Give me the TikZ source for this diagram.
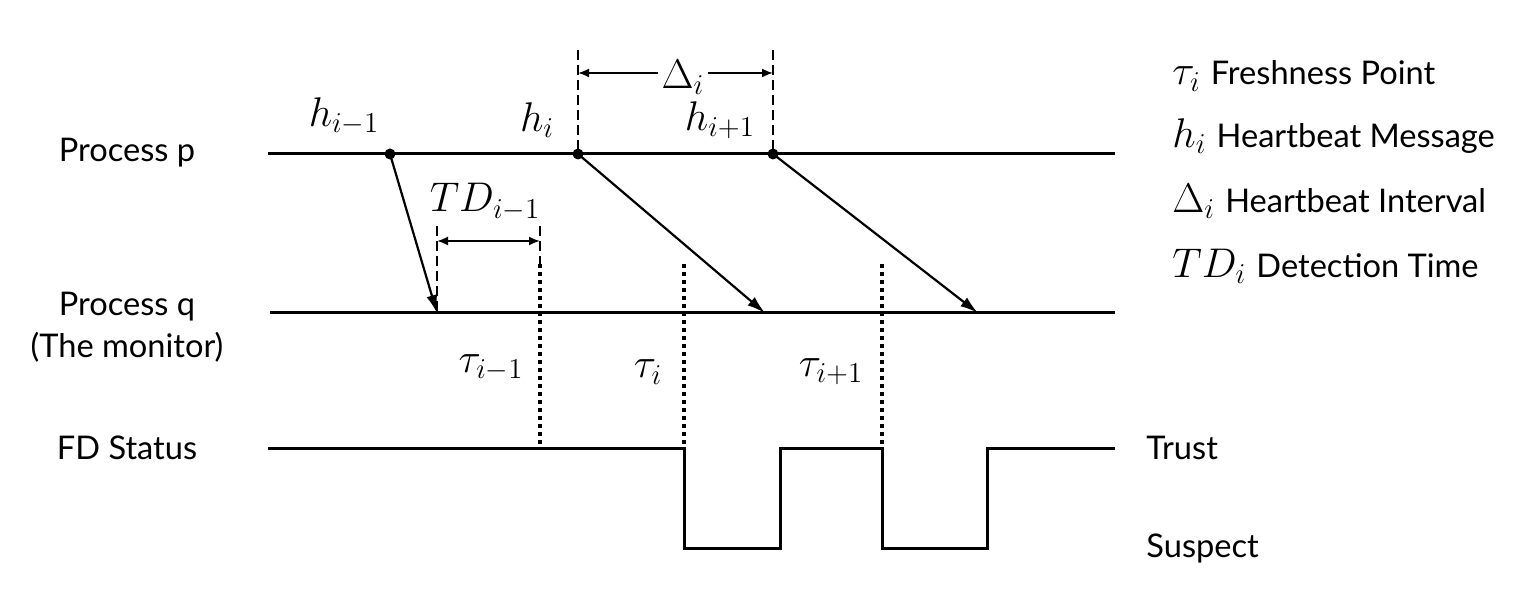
\documentclass[tikz,border=0pt]{standalone}
\usepackage{fontspec}
\setmainfont{Lato}
\usetikzlibrary{arrows.meta}
\begin{document}
\begin{tikzpicture}[x=0.5pt,y=-0.5pt,
 lane/.style={line width=1.5pt},
 msg/.style={line width=1.1pt,-{Latex[length=9pt,width=5.5pt]}},
 dim/.style={line width=0.9pt,{Latex[length=5.5pt,width=4.5pt]}-{Latex[length=5.5pt,width=4.5pt]}},
 guide/.style={line width=0.75pt,dash pattern=on 5pt off 2.5pt},
 fresh/.style={line width=2pt,dash pattern=on 2pt off 2pt},
 evt/.style={circle,fill,inner sep=0pt,minimum size=5.5pt},
 lbl/.style={font=\fontsize{16.3}{19}\selectfont,inner sep=0pt},
 mth/.style={font=\fontsize{20}{24}\selectfont,inner sep=1pt},
]
\useasboundingbox (0,0) rectangle (1531,613);
% lanes
\coordinate (pL) at (268,154); \coordinate (pR) at (1115,154);
\coordinate (qL) at (270,313); \coordinate (qR) at (1115,313);
\draw[lane] (pL) -- (pR);
\draw[lane] (qL) -- (qR);
% FD status
\coordinate (sL) at (268,449);
\coordinate (d1) at (684,449); \coordinate (d1b) at (684,549);
\coordinate (u1b) at (780,549); \coordinate (u1) at (780,449);
\coordinate (d2) at (882,449); \coordinate (d2b) at (882,549);
\coordinate (u2b) at (987,549); \coordinate (u2) at (987,449);
\coordinate (sR) at (1115,449);
\draw[lane] (sL) -- (d1) -- (d1b) -- (u1b) -- (u1) -- (d2) -- (d2b) -- (u2b) -- (u2) -- (sR);
% heartbeats
\node[evt] (h1) at (390,154) {};
\node[evt] (h2) at (578,154) {};
\node[evt] (h3) at (773,154) {};
\coordinate (r1) at (437,313);
\coordinate (r2) at (765,313);
\coordinate (r3) at (978,313);
\draw[msg] (h1.center) -- (r1);
\draw[msg] (h2.center) -- (r2);
\draw[msg] (h3.center) -- (r3);
% freshness points
\coordinate (f1t) at (540,264); \coordinate (f1) at (540,449);
\coordinate (f2t) at (684,264);
\coordinate (f3t) at (882,264);
\draw[fresh] (f1t) -- (f1);
\draw[fresh] (f2t) -- (d1);
\draw[fresh] (f3t) -- (d2);
% TD
\coordinate (tdA) at (437,226); \coordinate (tdB) at (540,226);
\coordinate (tdA2) at (437,241); \coordinate (tdB2) at (540,241);
\draw[guide] (tdA) -- (r1);
\draw[guide] (tdB) -- (f1t);
\draw[dim] (tdA2) -- (tdB2);
\node[mth] (tdl) at (485,202) {$TD_{i-1}$};
% Delta
\coordinate (dA) at (578,50); \coordinate (dB) at (773,50);
\coordinate (dA2) at (578,73); \coordinate (dB2) at (773,73);
\draw[guide] (dA) -- (h2.center);
\draw[guide] (dB) -- (h3.center);
\draw[dim] (dA2) -- (dB2);
\node[mth,fill=white,inner sep=2pt] (dl) at (683,77) {$\Delta_i$};
% labels
\node[mth] (lh1) at (344,116) {$h_{i-1}$};
\node[mth] (lh2) at (537,120) {$h_i$};
\node[mth] (lh3) at (720,120) {$h_{i+1}$};
\node[mth] (lt1) at (491,368) {$\tau_{i-1}$};
\node[mth] (lt2) at (648,372) {$\tau_i$};
\node[mth] (lt3) at (831,372) {$\tau_{i+1}$};
% left labels
\node[lbl] (lp) at (127,153) {Process p};
\node[lbl,align=center] (lq) at (127,327) {Process q\\[2pt](The monitor)};
\node[lbl] (lfd) at (127,448) {FD Status};
\node[lbl,anchor=west] (ltr) at (1146,448) {Trust};
\node[lbl,anchor=west] (lsu) at (1146,548) {Suspect};
% legend
\node[lbl,anchor=west] (g1) at (1172,76) {\fontsize{20}{24}\selectfont$\tau_i$ \fontsize{16.3}{19}\selectfont Freshness Point};
\node[lbl,anchor=west] (g2) at (1172,136) {\fontsize{20}{24}\selectfont$h_i$ \fontsize{16.3}{19}\selectfont Heartbeat Message};
\node[lbl,anchor=west] (g3) at (1172,201) {\fontsize{20}{24}\selectfont$\Delta_i$ \fontsize{16.3}{19}\selectfont Heartbeat Interval};
\node[lbl,anchor=west] (g4) at (1172,266) {\fontsize{20}{24}\selectfont$TD_i$ \fontsize{16.3}{19}\selectfont Detection Time};
\end{tikzpicture}
\end{document}
